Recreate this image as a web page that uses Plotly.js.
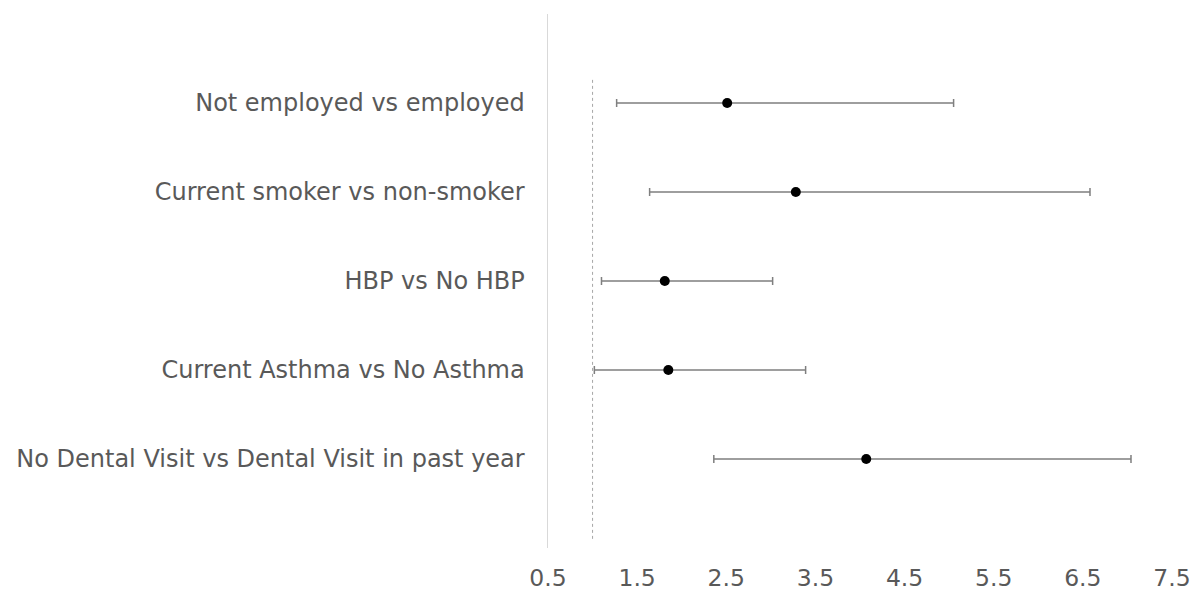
<!DOCTYPE html>
<html>
<head>
<meta charset="utf-8">
<script src="https://cdn.plot.ly/plotly-3.0.1.min.js"></script>
<style>html,body{margin:0;padding:0;background:#fff;}#chart{width:1194px;height:590px;}</style>
</head>
<body>
<div id="chart"></div>
<script>
const categories = [
  "Not employed vs employed",
  "Current smoker vs non-smoker",
  "HBP vs No HBP",
  "Current Asthma vs No Asthma",
  "No Dental Visit vs Dental Visit in past year"
];
const oddsRatio = [2.51, 3.28, 1.81, 1.85, 4.07];
const lowerCI   = [1.27, 1.64, 1.10, 1.02, 2.36];
const upperCI   = [5.05, 6.58, 3.02, 3.39, 7.04];
const xTickVals = [0.5, 1.5, 2.5, 3.5, 4.5, 5.5, 6.5, 7.5];
const referenceValue = 1;

const plus = oddsRatio.map((v, i) => upperCI[i] - v);
const minus = oddsRatio.map((v, i) => v - lowerCI[i]);

const trace = {
  type: 'scatter',
  mode: 'markers',
  x: oddsRatio,
  y: categories,
  marker: {color: '#000000', size: 10},
  error_x: {
    type: 'data', symmetric: false,
    array: plus, arrayminus: minus,
    color: '#7f7f7f', thickness: 1.5, width: 4
  },
  hoverinfo: 'x+y'
};

const layout = {
  width: 1194, height: 590,
  margin: {l: 548, r: 22, t: 14, b: 42},
  paper_bgcolor: '#ffffff', plot_bgcolor: '#ffffff',
  font: {family: 'DejaVu Sans, Verdana, sans-serif', color: '#595959', size: 24},
  showlegend: false,
  xaxis: {
    range: [0.5, 7.5],
    tickvals: xTickVals,
    ticktext: xTickVals.map(v => v.toFixed(1)),
    showgrid: false, zeroline: false, showline: false,
    ticks: '', ticklabelstandoff: 13,
    tickfont: {size: 23.5, color: '#595959'}
  },
  yaxis: {
    type: 'category',
    categoryorder: 'array', categoryarray: categories,
    range: [5, -1],
    showgrid: false, zeroline: false,
    showline: true, linecolor: '#d9d9d9', linewidth: 1.5,
    ticks: '', ticklabelstandoff: 17,
    tickfont: {size: 24, color: '#595959'}
  },
  shapes: [{
    type: 'line', xref: 'x', yref: 'y',
    x0: referenceValue, x1: referenceValue, y0: -0.26, y1: 4.91,
    line: {color: '#a6a6a6', width: 1, dash: 'dot'}
  }]
};

Plotly.newPlot('chart', [trace], layout, {displayModeBar: false, staticPlot: true});
</script>
</body>
</html>
